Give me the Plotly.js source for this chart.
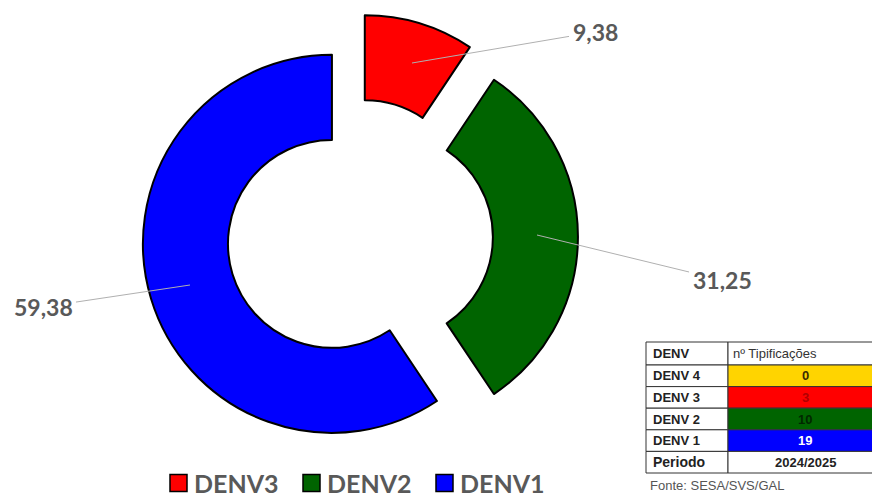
<!DOCTYPE html>
<html>
<head>
<meta charset="utf-8">
<script src="https://cdn.plot.ly/plotly-3.0.1.min.js"></script>
<style>html,body{margin:0;padding:0;background:#fff;}#chart{width:872px;height:494px;}</style>
</head>
<body>
<div id="chart"></div>
<script>
// Pie data
var labels = ["DENV3", "DENV2", "DENV1"];
var percents = [9.38, 31.25, 59.38];
var sliceColors = ["#ff0000", "#006400", "#0000ff"];
var pulls = [0.18, 0.18, 0.127];

// Table data
var tableHeader = ["DENV", "nº Tipificações"];
var tableTypes = ["DENV 4", "DENV 3", "DENV 2", "DENV 1", "Periodo"];
var tableCounts = ["0", "3", "10", "19", "2024/2025"];
var tableFills = ["#ffd400", "#ff0000", "#006400", "#0000ff", "#ffffff"];
var tableFontColors = ["#3a2a00", "#b00000", "#002800", "#ffffff", "#222222"];
var source = "Fonte: SESA/SVS/GAL";

var W = 872, H = 494;
function px(x) { return x / W; }
function py(y) { return 1 - y / H; }
function fmt(v) { return v.toFixed(2).replace(".", ","); }

var pie = {
  type: "pie",
  labels: labels,
  values: percents,
  sort: false,
  direction: "clockwise",
  rotation: 0,
  hole: 0.55,
  pull: pulls,
  textinfo: "none",
  hoverinfo: "label+value",
  marker: { colors: sliceColors, line: { color: "#000000", width: 2 } },
  domain: { x: [0.151, 0.663], y: [0.069, 0.972] },
  showlegend: false
};

var shapes = [];
var annotations = [];

// value labels with leader lines
var labelTips = [[412, 63], [537, 235], [190, 285]];
var labelOffsets = [[183, -31], [185, 45], [-147, 22]];
labels.forEach(function (l, i) {
  annotations.push({
    xref: "paper", yref: "paper",
    x: px(labelTips[i][0]), y: py(labelTips[i][1]),
    ax: labelOffsets[i][0], ay: labelOffsets[i][1],
    text: fmt(percents[i]),
    showarrow: true, arrowhead: 0, arrowwidth: 1, arrowcolor: "#b0b0b0",
    standoff: 0, startstandoff: 2,
    font: { family: "Lato, Open Sans, sans-serif", size: 23, weight: "bold", color: "#595959" }
  });
});

// legend (bottom)
var legX0 = 170, legStep = 133, legY = 483, sq = 17;
labels.forEach(function (l, i) {
  var x = legX0 + legStep * i;
  shapes.push({
    type: "rect", xref: "paper", yref: "paper",
    x0: px(x), x1: px(x + sq), y0: py(legY - sq / 2), y1: py(legY + sq / 2),
    fillcolor: sliceColors[i], line: { color: "#000000", width: 1.5 }
  });
  annotations.push({
    xref: "paper", yref: "paper", x: px(x + sq + 5), y: py(legY),
    xanchor: "left", yanchor: "middle", showarrow: false, text: l,
    font: { family: "Lato, Open Sans, sans-serif", size: 25, weight: "bold", color: "#595959" }
  });
});

// table
var tLeft = 646, tMid = 728, tRight = 900, tTop = 342, headH = 23, rowH = 21.6;
var tf = "Liberation Sans, Arial, sans-serif";
function cell(x0, x1, y0, y1, fill) {
  shapes.push({
    type: "rect", xref: "paper", yref: "paper",
    x0: px(x0), x1: px(x1), y0: py(y1), y1: py(y0),
    fillcolor: fill, line: { color: "#333333", width: 1 }
  });
}
cell(tLeft, tMid, tTop, tTop + headH, "#ffffff");
cell(tMid, tRight, tTop, tTop + headH, "#ffffff");
annotations.push({
  xref: "paper", yref: "paper", x: px(tLeft + 5), y: py(tTop + headH / 2),
  xanchor: "left", yanchor: "middle", showarrow: false,
  text: "<b>" + tableHeader[0] + "</b>", font: { family: tf, size: 13, color: "#222222" }
});
annotations.push({
  xref: "paper", yref: "paper", x: px(tMid + 3), y: py(tTop + headH / 2),
  xanchor: "left", yanchor: "middle", showarrow: false,
  text: tableHeader[1], font: { family: tf, size: 13, color: "#333333" }
});
tableTypes.forEach(function (t, i) {
  var y0 = tTop + headH + rowH * i, y1 = y0 + rowH;
  var fs = (i === tableTypes.length - 1) ? 14 : 13;
  cell(tLeft, tMid, y0, y1, "#ffffff");
  cell(tMid, tRight, y0, y1, tableFills[i]);
  annotations.push({
    xref: "paper", yref: "paper", x: px(tLeft + 5), y: py((y0 + y1) / 2),
    xanchor: "left", yanchor: "middle", showarrow: false,
    text: "<b>" + t + "</b>", font: { family: tf, size: fs, color: "#222222" }
  });
  annotations.push({
    xref: "paper", yref: "paper", x: px(805), y: py((y0 + y1) / 2),
    xanchor: "center", yanchor: "middle", showarrow: false,
    text: "<b>" + tableCounts[i] + "</b>", font: { family: tf, size: 13, color: tableFontColors[i] }
  });
});
annotations.push({
  xref: "paper", yref: "paper", x: px(648), y: py(485),
  xanchor: "left", yanchor: "middle", showarrow: false,
  text: source, font: { family: tf, size: 13, color: "#555555" }
});

var layout = {
  width: W, height: H,
  margin: { l: 0, r: 0, t: 0, b: 0 },
  paper_bgcolor: "#ffffff",
  showlegend: false,
  shapes: shapes,
  annotations: annotations
};

Plotly.newPlot("chart", [pie], layout, { displayModeBar: false, staticPlot: true });
</script>
</body>
</html>
